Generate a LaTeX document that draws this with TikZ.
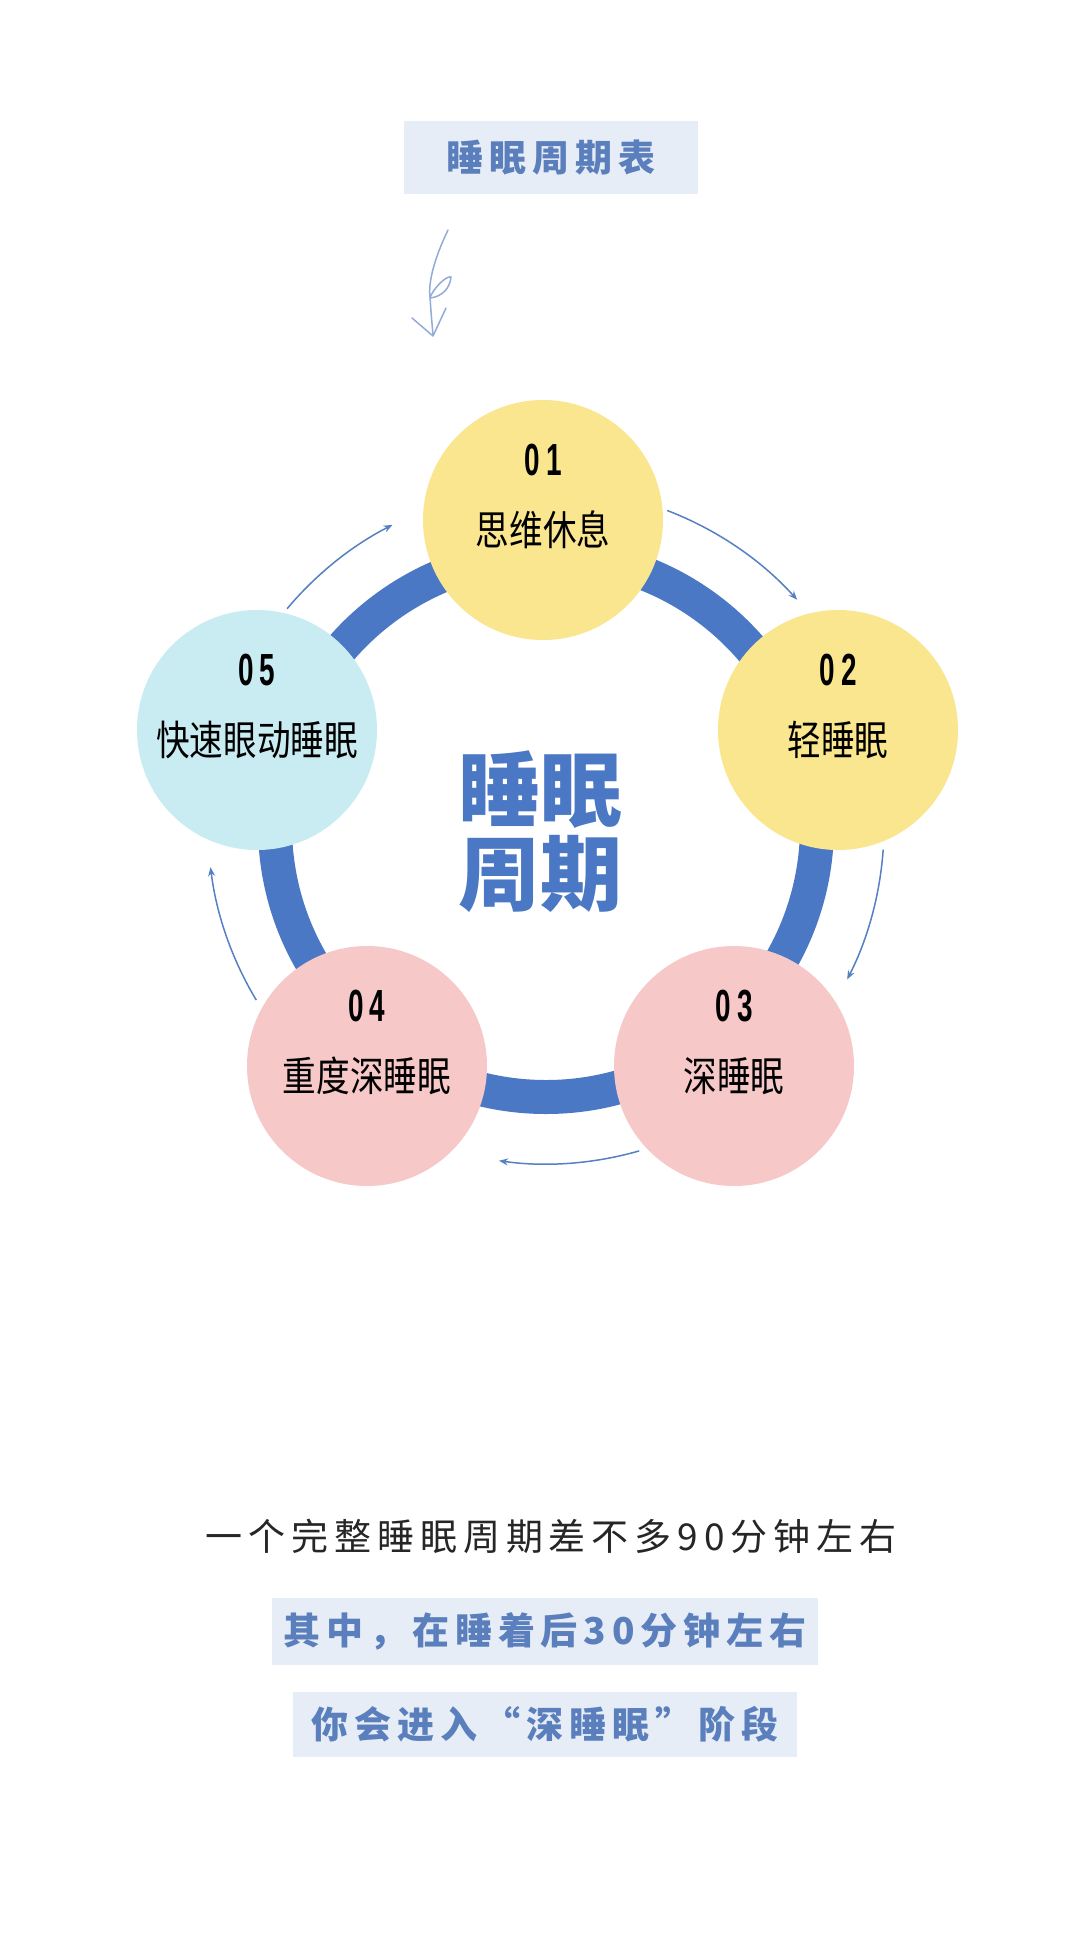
\documentclass[tikz,border=0pt]{standalone}
\usepackage{fontspec}
\newfontfamily\cjk{Noto Sans CJK SC}
\newfontfamily\cjkspaced[LetterSpace=16]{Noto Sans CJK SC}
\newfontfamily\cjknarrow[FakeStretch=0.82]{Noto Sans CJK SC}
\newfontfamily\numfont[FakeStretch=0.62]{Liberation Sans}
\usetikzlibrary{arrows.meta}
\definecolor{ringblue}{HTML}{4A78C5}
\definecolor{arcblue}{HTML}{5580C2}
\definecolor{textblue}{HTML}{5A7FBC}
\definecolor{bandfill}{HTML}{E6EDF6}
\definecolor{lightyellow}{HTML}{FAE68E}
\definecolor{lightpink}{HTML}{F6C9C8}
\definecolor{lightcyan}{HTML}{C9ECF2}
\definecolor{scribble}{HTML}{93ABD8}
\newcommand{\pairnum}[2]{#1\kern6pt#2}
\tikzset{
  x=1pt, y=1pt,
  stage/.style={circle, minimum size=240pt, inner sep=0pt},
  stagenum/.style={font=\numfont\bfseries\fontsize{45}{46}\selectfont},
  stagelabel/.style={font=\cjknarrow\fontsize{41}{44}\selectfont},
  band/.style={fill=bandfill, inner sep=0pt, text=textblue,
    font=\cjkspaced\bfseries\fontsize{37}{40}\selectfont},
  ring/.style={draw=ringblue, line width=34pt},
  cyclearrow/.style={draw=arcblue, line width=1.5pt, -{Stealth[length=9pt,width=7pt]}},
  scrib/.style={draw=scribble, line width=1.5pt, line cap=round, line join=round},
}
\begin{document}
\begin{tikzpicture}
  \useasboundingbox (0,0) rectangle (1080,-1934);
  \fill[white] (0,0) rectangle (1080,-1934);

  % heading
  \node[band, minimum width=294, minimum height=73] (head) at (551,-158) {睡眠周期表};
  \draw[scrib] (448,-230) .. controls (436,-255) and (428,-280) .. (430,-297)
               .. controls (431,-312) .. (433,-335);
  \draw[scrib] (430,-297) .. controls (438,-282) and (448,-276) .. (451,-277)
               .. controls (450,-289) and (441,-297) .. (430,-298);
  \draw[scrib] (412,-318) -- (433,-336) -- (446,-308);

  % ring
  \coordinate (mid) at (546,-826);
  \draw[ring] (mid) circle[radius=271];

  % arrows between stages
  \draw[cyclearrow] ([shift={(69:338)}]mid) arc[start angle=69, end angle=42, radius=338];
  \draw[cyclearrow] ([shift={(-4:338)}]mid) arc[start angle=-4, end angle=-27, radius=338];
  \draw[cyclearrow] ([shift={(-74:338)}]mid) arc[start angle=-74, end angle=-98, radius=338];
  \draw[cyclearrow] ([shift={(-149:338)}]mid) arc[start angle=-149, end angle=-173, radius=338];
  \draw[cyclearrow] ([shift={(140:338)}]mid) arc[start angle=140, end angle=117, radius=338];

  % stages
  \node[stage, fill=lightyellow] (s1) at (543,-520) {};
  \node[stage, fill=lightyellow] (s2) at (838,-730) {};
  \node[stage, fill=lightpink]   (s3) at (734,-1066) {};
  \node[stage, fill=lightpink]   (s4) at (367,-1066) {};
  \node[stage, fill=lightcyan]   (s5) at (257,-730) {};

  \node[stagenum]   (n1) at ([yshift=60]s1.center)  {\pairnum01};
  \node[stagelabel] (l1) at ([yshift=-10]s1.center) {思维休息};
  \node[stagenum]   (n2) at ([yshift=60]s2.center)  {\pairnum02};
  \node[stagelabel] (l2) at ([yshift=-10]s2.center) {轻睡眠};
  \node[stagenum]   (n3) at ([yshift=60]s3.center)  {\pairnum03};
  \node[stagelabel] (l3) at ([yshift=-10]s3.center) {深睡眠};
  \node[stagenum]   (n4) at ([yshift=60]s4.center)  {\pairnum04};
  \node[stagelabel] (l4) at ([yshift=-10]s4.center) {重度深睡眠};
  \node[stagenum]   (n5) at ([yshift=60]s5.center)  {\pairnum05};
  \node[stagelabel] (l5) at ([yshift=-10]s5.center) {快速眼动睡眠};

  % hub
  \node[align=center, text=ringblue, inner sep=0pt,
        font=\cjk\bfseries\fontsize{82}{84}\selectfont] (hub) at (540,-832) {睡眠\\周期};

  % notes
  \node[text=black!85, font=\cjkspaced\fontsize{37}{40}\selectfont] (note) at (551,-1536)
        {一个完整睡眠周期差不多90分钟左右};
  \node[band, minimum width=546, minimum height=67] (tip1) at (545,-1631) {其中，在睡着后30分钟左右};
  \node[band, minimum width=504, minimum height=65] (tip2) at (545,-1724) {你会进入“深睡眠”阶段};
\end{tikzpicture}
\end{document}
